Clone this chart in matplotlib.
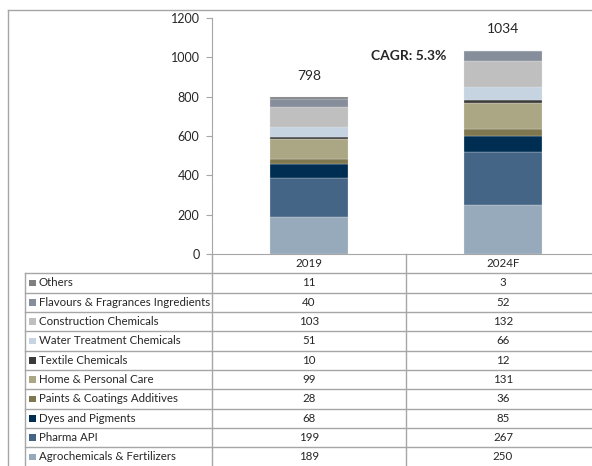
import matplotlib.pyplot as plt
from matplotlib.lines import Line2D
from matplotlib.patches import Rectangle

plt.rcParams['font.family'] = ['Lato', 'DejaVu Sans']

# data, bottom of the stack first
years = ['2019', '2024F']
segments = ['Agrochemicals & Fertilizers', 'Pharma API', 'Dyes and Pigments',
            'Paints & Coatings Additives', 'Home & Personal Care', 'Textile Chemicals',
            'Water Treatment Chemicals', 'Construction Chemicals',
            'Flavours & Fragrances Ingredients', 'Others']
values_2019 = [189, 199, 68, 28, 99, 10, 51, 103, 40, 11]
values_2024 = [250, 267, 85, 36, 131, 12, 66, 132, 52, 3]
totals = [798, 1034]
cagr_label = 'CAGR: 5.3%'

colors = ['#97aabb', '#456587', '#002e52', '#7e7750', '#aba785', '#3a3a3a',
          '#c6d4e2', '#bfbfbf', '#868e9c', '#7f7f7f']

W, H = 592, 466
fig = plt.figure(figsize=(W / 100, H / 100), dpi=100)


def fx(px):
    return px / W


def fy(py):
    return 1 - py / H


grid = '#a6a6a6'
txt = '#262626'

# chart area
ax = fig.add_axes([fx(212), fy(254), 388 / W, 236 / H])
series = [values_2019, values_2024]
bottoms = [0, 0]
for k, name in enumerate(segments):
    vals = [s[k] for s in series]
    ax.bar(range(len(years)), vals, bottom=bottoms, width=0.4, color=colors[k],
           edgecolor='#e8e8e8', linewidth=0.2)
    bottoms = [b + v for b, v in zip(bottoms, vals)]

for i, t in enumerate(totals):
    ax.annotate(str(t), (i, bottoms[i]), xytext=(0, 15.5), textcoords='offset points',
                ha='center', va='center', fontsize=10, color=txt)
ax.text(0.515, 1007, cagr_label, ha='center', va='center', fontsize=10,
        fontweight='bold', color=txt)

ax.set_xlim(-0.5, 1.5)
ax.set_ylim(0, 1200)
ax.set_yticks(range(0, 1201, 200))
ax.set_xticks([])
for s in ['top', 'right']:
    ax.spines[s].set_visible(False)
for s in ['left', 'bottom']:
    ax.spines[s].set_color(grid)
ax.tick_params(axis='y', length=4, color=grid, labelsize=9, labelcolor=txt, pad=5)

# outer frame
fig.add_artist(Line2D([fx(8), fx(8)], [fy(10), fy(H)], color=grid, lw=1))
fig.add_artist(Line2D([fx(8), 1], [fy(10), fy(10)], color=grid, lw=1))

# data table under the chart
row_top = 273.3
row_h = 19.33
n = len(segments)
col_x = [309, 503]
for r in range(n + 1):
    y = row_top + r * row_h
    fig.add_artist(Line2D([fx(25), 1], [fy(y), fy(y)], color=grid, lw=1))
fig.add_artist(Line2D([fx(25), fx(25)], [fy(row_top), fy(row_top + n * row_h)], color=grid, lw=1))
fig.add_artist(Line2D([fx(212), fx(212)], [fy(254), fy(row_top + n * row_h)], color=grid, lw=1))
fig.add_artist(Line2D([fx(406), fx(406)], [fy(254), fy(row_top + n * row_h)], color=grid, lw=1))

fs = 8.3
for j, yr in enumerate(years):
    fig.text(fx(col_x[j]), fy(263.5), yr, ha='center', va='center', fontsize=fs, color=txt)

for r, k in enumerate(reversed(range(n))):
    cy = row_top + r * row_h + row_h / 2
    fig.add_artist(Rectangle((fx(29), fy(cy + 3.3)), 6.5 / W, 6.5 / H,
                             facecolor=colors[k], edgecolor='none'))
    fig.text(fx(39), fy(cy), segments[k], ha='left', va='center', fontsize=fs, color=txt)
    for j, s in enumerate(series):
        fig.text(fx(col_x[j]), fy(cy), str(s[k]), ha='center', va='center',
                 fontsize=fs, color=txt)

fig.savefig('out.png', dpi=100)
